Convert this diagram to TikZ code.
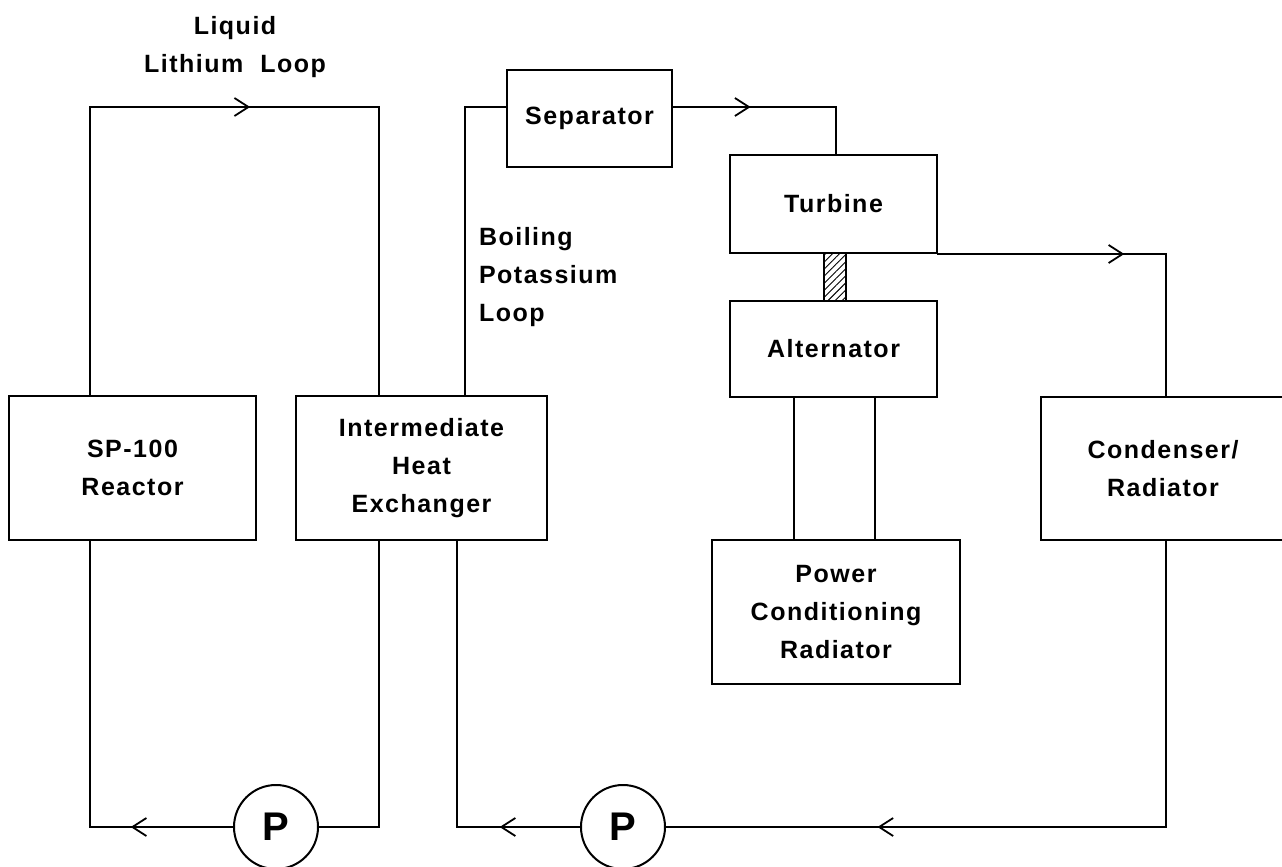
\documentclass[tikz,border=0pt]{standalone}
\usepackage{fontspec}
\setmainfont{Liberation Sans}[LetterSpace=6]
\usetikzlibrary{arrows.meta,decorations.markings,patterns.meta}
\newcommand{\diaglbl}{\fontsize{25}{38}\selectfont\bfseries}
\newcommand{\diagpump}{\fontsize{40}{40}\selectfont\bfseries}
\begin{document}
\begin{tikzpicture}[x=1pt,y=-1pt,line width=2pt,line cap=rect,
  box/.style={draw,line width=2pt,inner sep=0pt,align=center,font=\diaglbl},
  pump/.style={draw,circle,minimum size=84pt,inner sep=0pt,font=\diagpump},
  flow/.style={postaction={decorate},decoration={markings,
     mark=at position #1 with {\arrow[line width=1.8pt]{Straight Barb[length=14pt,width=18pt]}}}},
  txt/.style={font=\diaglbl,inner sep=0pt}]
\useasboundingbox (0,0) rectangle (1282,867);
% components
\node[box,minimum width=247pt,minimum height=144pt] (reactor) at (132.5,468) {SP-100\\Reactor};
\node[box,minimum width=251pt,minimum height=144pt] (ihx) at (421.5,468) {Intermediate\\Heat\\Exchanger};
\node[box,minimum width=165pt,minimum height=97pt] (sep) at (589.5,118.5) {Separator};
\node[box,minimum width=207pt,minimum height=98pt] (turb) at (833.5,204) {Turbine};
\node[box,minimum width=207pt,minimum height=96pt] (alt) at (833.5,349) {Alternator};
\node[box,minimum width=248pt,minimum height=144pt] (pcr) at (836,612) {Power\\Conditioning\\Radiator};
\node[box,minimum width=244pt,minimum height=143pt] (cond) at (1163,468.5) {Condenser/\\Radiator};
\node[pump] (p1) at (276,827) {P};
\node[pump] (p2) at (623,827) {P};
\node[draw,line width=2pt,inner sep=0pt,minimum width=22pt,minimum height=48pt,
      pattern={Lines[angle=45,distance=5pt,line width=0.9pt]}] (shaft) at (835,277) {};
% labels
\node[txt,align=center] (lithlbl) at (235,47) {Liquid\\Lithium\ \ Loop};
\node[txt,align=left,anchor=west] (klbl) at (478,277) {Boiling\\Potassium\\Loop};
% lithium loop
\coordinate (a1) at (90,107);
\coordinate (a2) at (379,107);
\coordinate (b1) at (90,827);
\coordinate (b2) at (379,827);
\draw (a1 |- reactor.north) -- (a1);
\draw[flow=0.554] (a1) -- (a2);
\draw (a2) -- (a2 |- ihx.north);
\draw (b1 |- reactor.south) -- (b1);
\draw[flow=0.715] (p1.west) -- (b1);
\draw (p1.east) -- (b2) -- (b2 |- ihx.south);
% potassium loop
\coordinate (k1) at (465,107);
\coordinate (k2) at (836,107);
\coordinate (kx) at (1166,0);
\coordinate (k4) at (1166,827);
\coordinate (k5) at (457,827);
\draw (k1 |- ihx.north) -- (k1) -- (sep.west |- k1);
\draw[flow=0.476] (sep.east |- k2) -- (k2);
\draw (k2) -- (k2 |- turb.north);
\draw[flow=0.817] (turb.south east) -- (kx |- turb.south east);
\draw (kx |- turb.south east) -- (kx |- cond.north);
\draw (kx |- cond.south) -- (k4);
\draw[flow=0.577] (k4) -- (p2.east);
\draw[flow=0.653] (p2.west) -- (k5);
\draw (k5) -- (k5 |- ihx.south);
% alternator to power conditioning radiator
\coordinate (e1) at (794,0);
\coordinate (e2) at (875,0);
\draw (e1 |- alt.south) -- (e1 |- pcr.north);
\draw (e2 |- alt.south) -- (e2 |- pcr.north);
\end{tikzpicture}
\end{document}
